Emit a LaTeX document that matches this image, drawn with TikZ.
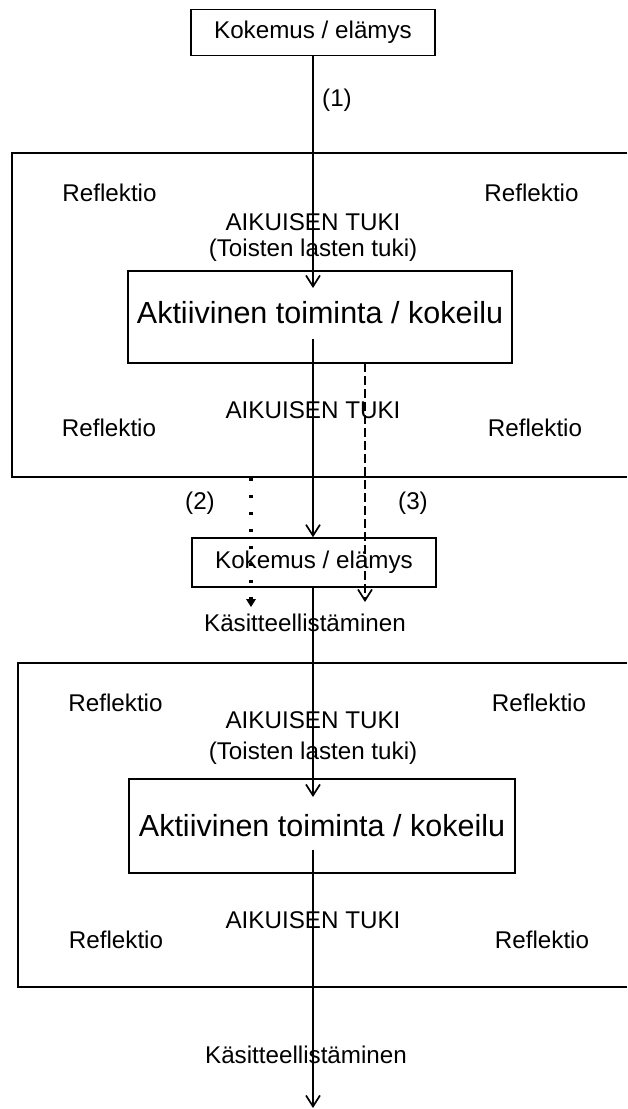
\documentclass[tikz,border=0pt]{standalone}
\usepackage{fontspec}
\setmainfont{Liberation Sans}
\usetikzlibrary{arrows.meta}
\begin{document}
\begin{tikzpicture}[x=1pt,y=-1pt,
  txt/.style={font=\fontsize{24.2}{28}\selectfont, inner sep=0pt},
  bigtxt/.style={font=\fontsize{30.5}{34}\selectfont, inner sep=0pt},
  frameline/.style={line width=1.9pt},
  box/.style={draw, line width=1.5pt, inner sep=0pt},
  arr/.style={line width=1.5pt, -{Straight Barb[length=11pt,width=14pt,line width=1.7pt]}},
  dasharr/.style={arr, dash pattern=on 9pt off 4pt},
  dotarr/.style={line width=3.4pt, dash pattern=on 3pt off 14pt,
                 -{Triangle[length=8pt,width=10pt,line width=0pt]}}
]
\useasboundingbox (0,0) rectangle (627,1109);

% ---------- top experience box ----------
\node[box, txt, minimum width=244pt, minimum height=46pt] (k1) at (313,32.5) {Kokemus / elämys};
\node[txt] (l1) at (337,100) {(1)};

% ---------- first frame ----------
\draw[frameline] (627,153) -- (12,153) -- (12,477) -- (627,477);
\node[box, bigtxt, minimum width=384pt, minimum height=92pt, text depth=8.5pt] (a1) at (320,317)
  {Aktiivinen toiminta / kokeilu};
\node[txt] (r11) at (109.5,193) {Reflektio};
\node[txt] (r12) at (531.5,193) {Reflektio};
\node[txt] (r13) at (109,428) {Reflektio};
\node[txt] (r14) at (535,428) {Reflektio};
\node[txt] (at11) at (313,222) {AIKUISEN TUKI};
\node[txt] (tl1) at (313,250) {(Toisten lasten tuki)};
\node[txt] (at12) at (313,410) {AIKUISEN TUKI};

% ---------- second experience box ----------
\node[box, txt, minimum width=244pt, minimum height=49pt] (k2) at (314,562.5) {Kokemus / elämys};
\node[txt] (l2) at (200,503) {(2)};
\node[txt] (l3) at (413,503) {(3)};
\node[txt] (ka1) at (305,623) {Käsitteellistäminen};

% ---------- second frame ----------
\draw[frameline] (627,663) -- (18,663) -- (18,987) -- (627,987);
\node[box, bigtxt, minimum width=386pt, minimum height=94pt] (a2) at (322,826)
  {Aktiivinen toiminta / kokeilu};
\node[txt] (r21) at (115.5,703) {Reflektio};
\node[txt] (r22) at (539,703) {Reflektio};
\node[txt] (r23) at (116,940) {Reflektio};
\node[txt] (r24) at (542,940) {Reflektio};
\node[txt] (at21) at (313,720) {AIKUISEN TUKI};
\node[txt] (tl2) at (313,753) {(Toisten lasten tuki)};
\node[txt] (at22) at (313,920) {AIKUISEN TUKI};

\node[txt] (ka2) at (306,1055) {Käsitteellistäminen};

% ---------- connector end points ----------
\coordinate (t1) at (313,288);
\coordinate (s1) at (313,339);
\coordinate (t2) at (313,797);
\coordinate (s2) at (313,850);
\coordinate (t3) at (313,1108);
\coordinate (d0) at (365,363);
\coordinate (d1) at (365,602);
\coordinate (p0) at (251,478);
\coordinate (p1) at (251,607);

% ---------- connectors ----------
\draw[arr] (k1.south -| t1) -- (t1);
\draw[arr] (s1) -- (s1 |- k2.north);
\draw[arr] (s1 |- k2.south) -- (t2);
\draw[arr] (s2) -- (t3);
\draw[dasharr] (d0) -- (d1);
\draw[dotarr] (p0) -- (p1);
\end{tikzpicture}
\end{document}
